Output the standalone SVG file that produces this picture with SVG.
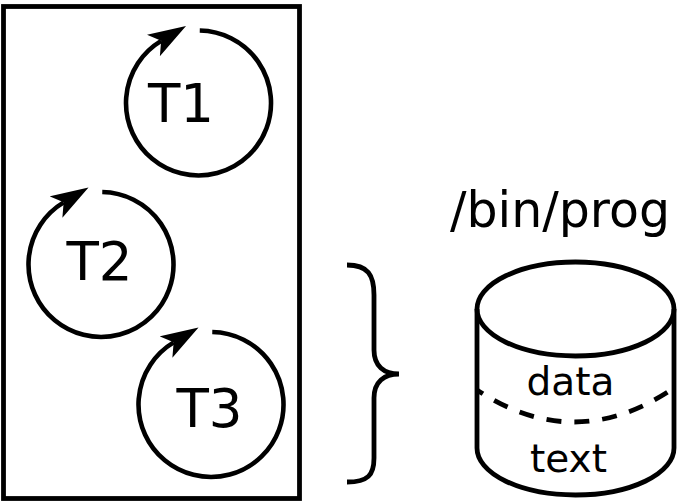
<svg xmlns="http://www.w3.org/2000/svg" width="678" height="504" viewBox="0 0 678 504">
<style>
.ln{fill:none;stroke:#000;stroke-width:4.8}
.loop{fill:none;stroke:#000;stroke-width:4.6;marker-end:url(#dart)}
.lbl{font-family:"DejaVu Sans",sans-serif;fill:#000;text-anchor:middle}
.big{font-size:53px}
.mid{font-size:49px}
.sm{font-size:39px}
</style>
<defs>
<marker id="dart" viewBox="0 0 38 25" markerUnits="userSpaceOnUse" markerWidth="38" markerHeight="25" refX="9" refY="12.5" orient="auto">
<path d="M0,0 L38,12.5 L0,25 L9,12.5 z" fill="#000"/>
</marker>
</defs>
<rect x="0" y="0" width="678" height="504" fill="#fff"/>
<g id="process">
<rect class="ln" x="3.5" y="6.5" width="296" height="492"/>
</g>
<g id="T1">
<path class="loop" transform="translate(198.5,103)" d="M1.27,-72.49 A72.5,72.5 0 1 1 -37.34,-62.14"/>
<text class="lbl big" x="181" y="122">T1</text>
</g>
<g id="T2">
<path class="loop" transform="translate(101,264.5)" d="M1.27,-72.49 A72.5,72.5 0 1 1 -37.34,-62.14"/>
<text class="lbl big" x="99.5" y="280">T2</text>
</g>
<g id="T3">
<path class="loop" transform="translate(211,404.5)" d="M1.27,-72.49 A72.5,72.5 0 1 1 -37.34,-62.14"/>
<text class="lbl big" x="209.5" y="427">T3</text>
</g>
<g id="connectors">
<path class="ln" d="M347,265 C368,265 374,275 374,295 L374,350 C374,366 384,374 399,374 C384,374 374,382 374,398 L374,458 C374,475 368,482 347,482"/>
</g>
<g id="prog">
<text class="lbl mid" x="560" y="226.5">/bin/prog</text>
<ellipse class="ln" cx="575.5" cy="309" rx="98.5" ry="47"/>
<path class="ln" d="M477,309 L477,448 A98.5,47 0 0 0 674,448 L674,309"/>
<path class="ln" stroke-dasharray="15 13" stroke-dashoffset="8" d="M477,390 Q575,455 674,388"/>
<text class="lbl sm" x="570.5" y="395">data</text>
<text class="lbl sm" x="568.5" y="472">text</text>
</g>
</svg>
